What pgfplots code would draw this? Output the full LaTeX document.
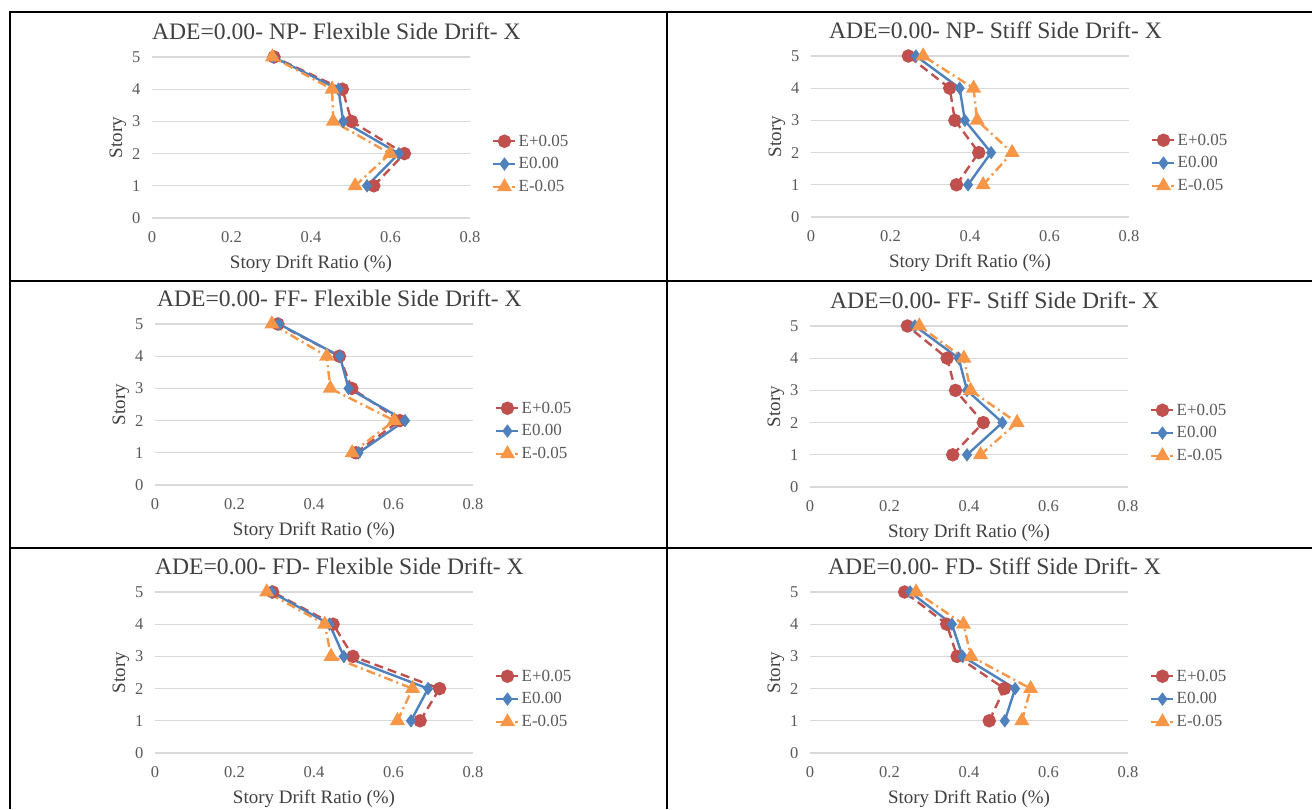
\documentclass[border=0pt]{standalone}
\usepackage{fontspec}
\setmainfont{Liberation Serif}
\usepackage{pgfplots}
\pgfplotsset{compat=1.18}
\definecolor{cred}{RGB}{192,80,77}
\definecolor{cblue}{RGB}{79,129,189}
\definecolor{corange}{RGB}{247,150,70}
\definecolor{tickgray}{RGB}{89,89,89}
\definecolor{titlegray}{RGB}{64,64,64}
\pgfplotsset{
 drift/.style={
  scale only axis, width=318pt, height=161pt,
  anchor=south west,
  xmin=0,xmax=0.8,ymin=0,ymax=5,
  xtick={0,0.2,0.4,0.6,0.8}, xticklabels={0,0.2,0.4,0.6,0.8},
  ytick={0,1,2,3,4,5}, yticklabels={0,1,2,3,4,5},
  /pgf/number format/assume math mode=true,
  axis line style={draw=none},
  major tick length=0pt,
  ymajorgrids, grid style={draw=black!15, line width=1.2pt},
  tick label style={font=\fontsize{16.5}{18}\selectfont, text=tickgray},
  xticklabel style={yshift=-10pt},
  yticklabel style={xshift=-8pt},
  xlabel={Story Drift Ratio (\%)},
  ylabel={Story},
  label style={font=\fontsize{19}{21}\selectfont, text=titlegray},
  xlabel style={at={(axis description cs:0.5,-0.285)}, anchor=center},
  ylabel style={at={(axis description cs:-0.107,0.5)}, anchor=center, rotate=0},
  title style={at={(axis description cs:0.58,1.12)}, anchor=center, font=\fontsize{23.6}{26}\selectfont, text=titlegray},
  legend style={at={(axis description cs:1.06,0.335)}, anchor=west, draw=none, fill=none,
    font=\fontsize{17}{19}\selectfont, text=tickgray, row sep=6pt,
    /tikz/every even column/.append style={column sep=0pt}},
  legend cell align=left,
  legend image code/.code={\draw[mark repeat=2,mark phase=2,#1] plot coordinates {(0pt,0pt) (11pt,0pt) (22pt,0pt)};},
  legend entries={E+0.05,E0.00,E-0.05},
 },
 sred/.style={color=cred, line width=2.4pt, dash pattern=on 9pt off 5pt, mark=*, mark size=5.5pt, mark options={solid, fill=cred}},
 sblue/.style={color=cblue, line width=2.4pt, solid, mark=diamond*, mark size=4.8pt, mark options={solid, fill=cblue}},
 sorange/.style={color=corange, line width=2.4pt, dash pattern=on 9pt off 4pt on 2pt off 4pt, mark=triangle*, mark size=6.3pt, mark options={solid, fill=corange}},
}
\begin{document}
\begin{tikzpicture}[x=1pt,y=1pt]
\useasboundingbox (0,0) rectangle (1312,809);
\draw[line width=2pt] (10,0) -- (10,797) -- (1312,797);
\draw[line width=2pt] (667,0) -- (667,797);
\draw[line width=2pt] (10,528) -- (1312,528);
\draw[line width=2pt] (10,260.5) -- (1312,260.5);

% Panel 1: NP Flexible
\begin{axis}[drift, at={(152pt,591pt)}, title={ADE=0.00- NP- Flexible Side Drift- X}]
\addplot[sred] coordinates {(0.558,1)(0.635,2)(0.502,3)(0.479,4)(0.307,5)};
\addplot[sblue] coordinates {(0.541,1)(0.621,2)(0.481,3)(0.469,4)(0.305,5)};
\addplot[sorange] coordinates {(0.511,1)(0.599,2)(0.456,3)(0.453,4)(0.303,5)};
\end{axis}

% Panel 2: NP Stiff
\begin{axis}[drift, at={(811pt,592pt)}, title={ADE=0.00- NP- Stiff Side Drift- X}]
\addplot[sred] coordinates {(0.366,1)(0.422,2)(0.362,3)(0.349,4)(0.245,5)};
\addplot[sblue] coordinates {(0.395,1)(0.453,2)(0.387,3)(0.374,4)(0.264,5)};
\addplot[sorange] coordinates {(0.433,1)(0.506,2)(0.418,3)(0.409,4)(0.282,5)};
\end{axis}

% Panel 3: FF Flexible
\begin{axis}[drift, at={(155pt,324pt)}, title={ADE=0.00- FF- Flexible Side Drift- X}]
\addplot[sred] coordinates {(0.505,1)(0.616,2)(0.495,3)(0.464,4)(0.309,5)};
\addplot[sblue] coordinates {(0.512,1)(0.629,2)(0.487,3)(0.465,4)(0.312,5)};
\addplot[sorange] coordinates {(0.496,1)(0.602,2)(0.441,3)(0.432,4)(0.294,5)};
\end{axis}

% Panel 4: FF Stiff
\begin{axis}[drift, at={(810pt,322pt)}, title={ADE=0.00- FF- Stiff Side Drift- X}]
\addplot[sred] coordinates {(0.359,1)(0.436,2)(0.366,3)(0.345,4)(0.245,5)};
\addplot[sblue] coordinates {(0.395,1)(0.484,2)(0.395,3)(0.374,4)(0.264,5)};
\addplot[sorange] coordinates {(0.429,1)(0.521,2)(0.404,3)(0.387,4)(0.275,5)};
\end{axis}

% Panel 5: FD Flexible
\begin{axis}[drift, at={(155pt,56pt)}, title={ADE=0.00- FD- Flexible Side Drift- X}]
\addplot[sred] coordinates {(0.667,1)(0.716,2)(0.498,3)(0.448,4)(0.296,5)};
\addplot[sblue] coordinates {(0.644,1)(0.687,2)(0.475,3)(0.439,4)(0.293,5)};
\addplot[sorange] coordinates {(0.610,1)(0.648,2)(0.443,3)(0.427,4)(0.281,5)};
\end{axis}

% Panel 6: FD Stiff
\begin{axis}[drift, at={(810pt,56pt)}, title={ADE=0.00- FD- Stiff Side Drift- X}]
\addplot[sred] coordinates {(0.451,1)(0.489,2)(0.370,3)(0.344,4)(0.238,5)};
\addplot[sblue] coordinates {(0.490,1)(0.516,2)(0.384,3)(0.357,4)(0.252,5)};
\addplot[sorange] coordinates {(0.533,1)(0.555,2)(0.405,3)(0.386,4)(0.267,5)};
\end{axis}
\end{tikzpicture}
\end{document}
